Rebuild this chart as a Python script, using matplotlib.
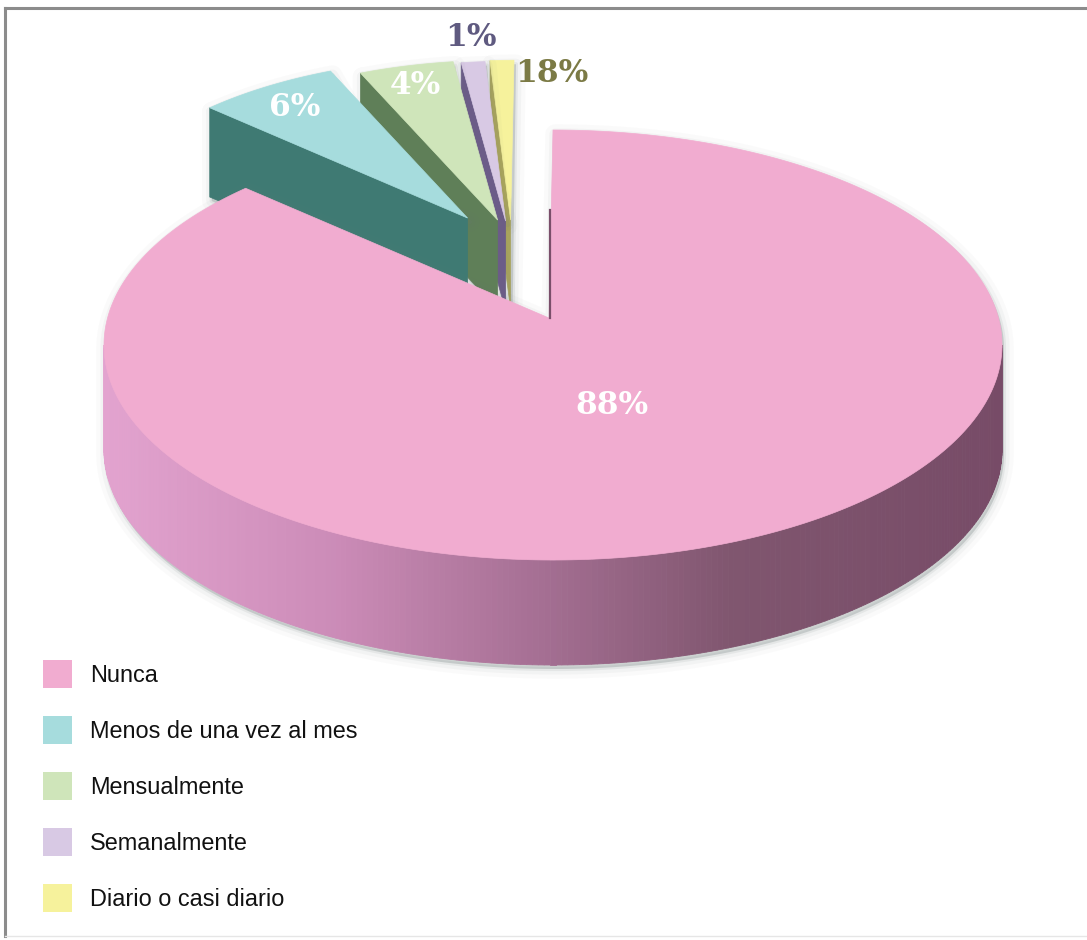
import numpy as np
import matplotlib
matplotlib.use("Agg")
import matplotlib.pyplot as plt
from matplotlib.patches import Polygon, Rectangle

# --- data -------------------------------------------------------------
categories = ["Nunca", "Menos de una vez al mes", "Mensualmente",
              "Semanalmente", "Diario o casi diario"]
shares = [88, 6, 4, 1, 1]
value_labels = ["88%", "6%", "4%", "1%", "18%"]

# --- style ------------------------------------------------------------
top_colors = ["#f1acd0", "#a6dcdd", "#cfe5ba", "#d8c9e4", "#f6f29c"]
face_colors = ["#7a4e6a", "#3f7a73", "#5f7f58", "#6b5c88", "#a9a55c"]
label_colors = ["white", "white", "white", "#5f5a80", "#7b7a45"]
# (dx, dy, scale) placement of each wedge relative to the main disc
wedge_place = [(0, 0, 1.0), (-82, -104, 0.85), (-52, -102, 0.85),
               (-44, -101, 0.85), (-39, -102, 0.85)]
label_pos = [(612, 405), (295, 107), (415, 85), (471, 38), (552, 73)]

W, H = 1087, 940
CX, CY, RX, RY, DEPTH = 553, 345, 449, 215, 105
APEX_DX, APEX_DY = -4, -27

fig = plt.figure(figsize=(W / 100, H / 100), dpi=100)
ax = fig.add_axes([0, 0, 1, 1])
ax.set_xlim(0, W)
ax.set_ylim(H, 0)
ax.axis("off")

frac = np.array(shares, float) / np.sum(shares)
ends = 90 - 360 * np.cumsum(frac)
starts = np.r_[90, ends[:-1]]


def rim(ecx, ecy, s, th):
    t = np.radians(th)
    return np.c_[ecx + s * RX * np.cos(t), ecy - s * RY * np.sin(t)]


def apex(ecx, ecy, s):
    return np.array([[ecx + s * APEX_DX, ecy + s * APEX_DY]])


def shadow(poly, z):
    sh = poly + np.array([2, 4])
    for lw, a in [(14, 0.03), (8, 0.05), (3, 0.10)]:
        ax.add_patch(Polygon(sh, closed=True, facecolor="none",
                             edgecolor="#6f7a78", lw=lw, alpha=a,
                             joinstyle="round", zorder=z))
    ax.add_patch(Polygon(sh, closed=True, facecolor="#8a9593", alpha=0.35,
                         edgecolor="none", zorder=z))


def lerp_col(stops, x):
    xs = [p for p, _ in stops]
    cols = np.array([matplotlib.colors.to_rgb(c) for _, c in stops])
    return tuple(np.interp(x, xs, cols[:, k]) for k in range(3))


side_stops = [(105, "#e3a3cf"), (330, "#cc8cb8"), (540, "#a56f93"),
              (730, "#80566f"), (1005, "#774b67")]

# draw from the back wedge to the front one
order = [4, 3, 2, 1, 0]
z = 1
for i in order:
    dx, dy, s = wedge_place[i]
    ecx, ecy = CX + dx, CY + dy
    a0, a1 = starts[i], ends[i]
    d = DEPTH * s
    ap = apex(ecx, ecy, s)
    arc = rim(ecx, ecy, s, np.linspace(a0, a1, max(8, int(abs(a0 - a1) * 2))))
    top = np.vstack([ap, arc])

    # silhouette for the soft shadow
    if i == 0:
        t1 = np.linspace(a0, 0, 200)
        t2 = np.linspace(0, -180, 300)
        t3 = np.linspace(-180, a1, 100)
        sil = np.vstack([ap, rim(ecx, ecy, s, t1),
                         rim(ecx, ecy, s, t2) + [0, d],
                         rim(ecx, ecy, s, t3)])
    else:
        r0 = rim(ecx, ecy, s, [a0])
        sil = np.vstack([ap, arc, ap + [0, d], r0 + [0, d], r0])
    shadow(sil, z)
    z += 1

    # cut face at the start angle
    if np.cos(np.radians(a0)) < -1e-6:
        r0 = rim(ecx, ecy, s, [a0])
        face = np.vstack([ap, r0, r0 + [0, d], ap + [0, d]])
        ax.add_patch(Polygon(face, closed=True, facecolor=face_colors[i],
                             edgecolor=face_colors[i], lw=0.5, zorder=z))
    # cut face at the end angle
    if np.cos(np.radians(a1)) > 1e-6:
        r1 = rim(ecx, ecy, s, [a1])
        face = np.vstack([ap, r1, r1 + [0, d], ap + [0, d]])
        ax.add_patch(Polygon(face, closed=True, facecolor=face_colors[i],
                             edgecolor=face_colors[i], lw=0.5, zorder=z))
    # curved outer wall, front half only, shaded left to right
    lo, hi = max(min(a0, a1), -180), min(max(a0, a1), 0)
    if hi > lo:
        ts = np.linspace(hi, lo, 240)
        pts = rim(ecx, ecy, s, ts)
        for k in range(len(ts) - 1):
            p, q = pts[k], pts[k + 1]
            quad = np.array([p, q, q + [0, d], p + [0, d]])
            c = lerp_col(side_stops, 0.5 * (p[0] + q[0]))
            ax.add_patch(Polygon(quad, closed=True, facecolor=c,
                                 edgecolor=c, lw=0.6, zorder=z))
    z += 1
    ax.add_patch(Polygon(top, closed=True, facecolor=top_colors[i],
                         edgecolor=top_colors[i], lw=0.5, zorder=z))
    if i == 0:
        ax.plot([ap[0, 0] + 1, ap[0, 0] + 1], [ap[0, 1] - 108, ap[0, 1]],
                color=face_colors[0], lw=1.6, zorder=z)
    z += 1

# value labels
for i, txt in enumerate(value_labels):
    x, y = label_pos[i]
    ax.text(x, y, txt, ha="center", va="center", fontsize=22.5,
            fontweight="bold", family="DejaVu Serif",
            color=label_colors[i], zorder=50)

# legend
for i, name in enumerate(categories):
    y = 674 + 56 * i
    ax.add_patch(Rectangle((43, y - 14), 29, 28, facecolor=top_colors[i],
                           edgecolor="none", zorder=50))
    ax.text(90, y + 1, name, ha="left", va="center", fontsize=16.9,
            family="Liberation Sans", color="#111111", zorder=50)

# frame
ax.plot([5, 5], [8, 936], color="#8c8c8c", lw=2.2, zorder=60)
ax.plot([5, W], [8, 8], color="#8c8c8c", lw=2.2, zorder=60)
ax.plot([5, W], [936, 936], color="#e6e6e6", lw=1.0, zorder=60)

fig.savefig("out.png", dpi=100, facecolor="white")
